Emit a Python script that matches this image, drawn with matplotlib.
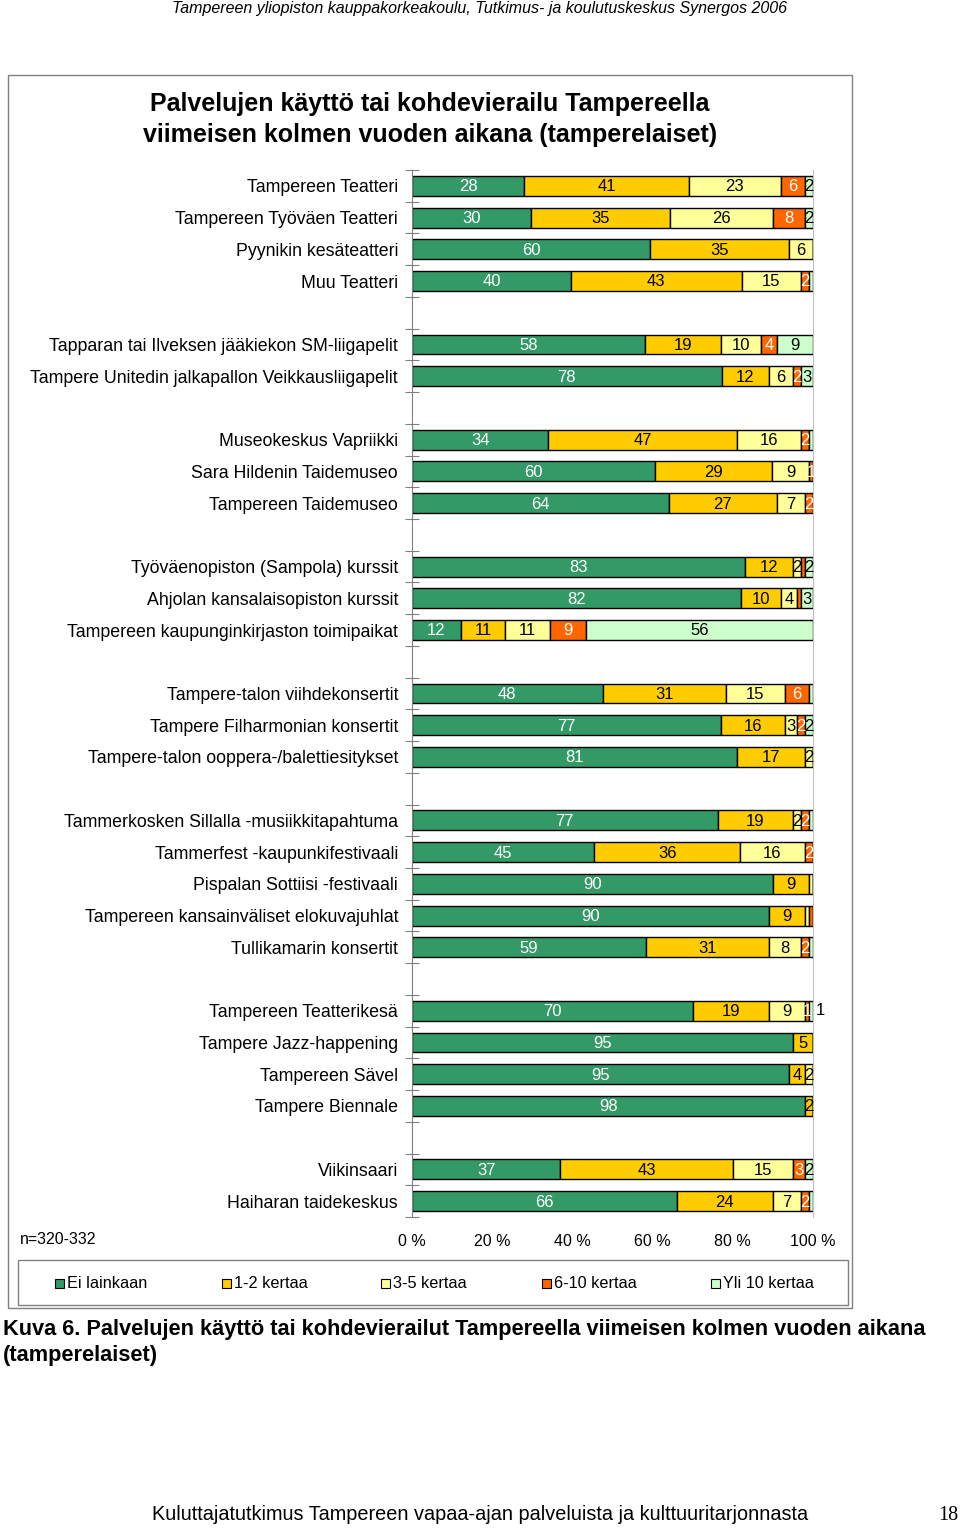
import matplotlib
matplotlib.use("Agg")
import matplotlib.pyplot as plt
import numpy as np

plt.rcParams['font.family'] = ['Liberation Sans', 'DejaVu Sans']

# ---- data ----
groups = [
    ["Tampereen Teatteri", "Tampereen Työväen Teatteri", "Pyynikin kesäteatteri", "Muu Teatteri"],
    ["Tapparan tai Ilveksen jääkiekon SM-liigapelit", "Tampere Unitedin jalkapallon Veikkausliigapelit"],
    ["Museokeskus Vapriikki", "Sara Hildenin Taidemuseo", "Tampereen Taidemuseo"],
    ["Työväenopiston (Sampola) kurssit", "Ahjolan kansalaisopiston kurssit",
     "Tampereen kaupunginkirjaston toimipaikat"],
    ["Tampere-talon viihdekonsertit", "Tampere Filharmonian konsertit",
     "Tampere-talon ooppera-/balettiesitykset"],
    ["Tammerkosken Sillalla -musiikkitapahtuma", "Tammerfest -kaupunkifestivaali",
     "Pispalan Sottiisi -festivaali", "Tampereen kansainväliset elokuvajuhlat", "Tullikamarin konsertit"],
    ["Tampereen Teatterikesä", "Tampere Jazz-happening", "Tampereen Sävel", "Tampere Biennale"],
    ["Viikinsaari", "Haiharan taidekeskus"],
]

series_names = ["Ei lainkaan", "1-2 kertaa", "3-5 kertaa", "6-10 kertaa", "Yli 10 kertaa"]

ei_lainkaan = [28, 30, 60, 40, 58, 78, 34, 60, 64, 83, 82, 12, 48, 77, 81, 77, 45, 90, 90, 59, 70, 95, 95, 98, 37, 66]
kertaa_1_2 = [41, 35, 35, 43, 19, 12, 47, 29, 27, 12, 10, 11, 31, 16, 17, 19, 36, 9, 9, 31, 19, 5, 4, 2, 43, 24]
kertaa_3_5 = [23, 26, 6, 15, 10, 6, 16, 9, 7, 2, 4, 11, 15, 3, 2, 2, 16, 1, 1, 8, 9, 0, 2, 0, 15, 7]
kertaa_6_10 = [6, 8, 0, 2, 4, 2, 2, 1, 2, 1, 1, 9, 6, 2, 0, 2, 2, 0, 1, 2, 1, 0, 0, 0, 3, 2]
yli_10 = [2, 2, 0, 1, 9, 3, 1, 0, 0, 2, 3, 56, 1, 2, 0, 1, 0, 0, 0, 1, 1, 0, 0, 0, 2, 1]

series = [ei_lainkaan, kertaa_1_2, kertaa_3_5, kertaa_6_10, yli_10]
colors = ["#339966", "#FFCC00", "#FFFF99", "#FF6600", "#CCFFCC"]
text_colors = ["white", "black", "black", "white", "black"]
x_ticks = [0, 20, 40, 60, 80, 100]
x_tick_labels = ["0 %", "20 %", "40 %", "60 %", "80 %", "100 %"]

# labels not visible in the original (row index, series index)
hidden_labels = {(17, 2), (18, 2), (18, 3), (3, 4), (6, 4), (12, 4), (15, 4), (19, 4), (25, 4),
                 (9, 3), (10, 3)}
# labels drawn just outside the bar end
outside_labels = {(20, 4)}

# ---- figure ----
W, H = 960, 1528
fig = plt.figure(figsize=(W / 100, H / 100), dpi=100)

def fx(px):
    return px / W

def fy(py):
    return 1 - py / H

# outer chart frame
fig.add_artist(plt.Rectangle((fx(8), fy(1308)), fx(852) - fx(8), fy(75) - fy(1308),
                             transform=fig.transFigure, fill=False, edgecolor="#808080", lw=1.0))
# legend frame
fig.add_artist(plt.Rectangle((fx(18), fy(1305)), fx(848) - fx(18), fy(1260) - fy(1305),
                             transform=fig.transFigure, fill=False, edgecolor="#808080", lw=1.0))

ax_left, ax_right = 412, 813
ax_top, ax_bottom = 170, 1217
ax = fig.add_axes([fx(ax_left), fy(ax_bottom), fx(ax_right) - fx(ax_left), fy(ax_top) - fy(ax_bottom)])

# positions with one blank slot between groups
labels = []
positions = []
pos = 0
for gi, g in enumerate(groups):
    for name in g:
        labels.append(name)
        positions.append(pos)
        pos += 1
    pos += 1
n_slots = pos - 1

data = np.array(series, dtype=float)
totals = data.sum(axis=0)
pct = data / totals * 100

left = np.zeros(len(labels))
for si in range(len(series)):
    ax.barh(positions, pct[si], left=left, height=0.63, color=colors[si],
            edgecolor="black", linewidth=1.0, label=series_names[si])
    for j, p in enumerate(positions):
        v = data[si][j]
        if v > 0 and (j, si) not in hidden_labels:
            if (j, si) in outside_labels:
                ax.text(100.6, p, f"{int(v)}", ha="left", va="center", color="black",
                        fontsize=12, clip_on=False)
            else:
                ax.text(left[j] + pct[si][j] / 2, p + 0.03, f"{int(v)}", ha="center", va="center",
                        color=text_colors[si], fontsize=12)
    left += pct[si]

ax.set_xlim(0, 100)
ax.set_ylim(n_slots - 0.5, -0.5)
ax.set_yticks(positions)
ax.set_yticklabels(labels, fontsize=12.8)
ax.set_yticks(np.arange(-0.5, n_slots, 1.0), minor=True)
ax.tick_params(axis="y", which="major", length=0, pad=10)
ax.tick_params(axis="y", which="minor", length=10, direction="inout", width=0.8, color="#808080")
ax.set_xticks(x_ticks)
ax.set_xticklabels(x_tick_labels, fontsize=11.5)
ax.tick_params(axis="x", length=0, pad=12)
ax.spines["top"].set_visible(False)
ax.spines["bottom"].set_visible(False)
ax.spines["right"].set_color("#C0C0C0")
ax.spines["left"].set_color("#808080")
ax.set_facecolor("white")

# title
fig.text(fx(430), fy(104), "Palvelujen käyttö tai kohdevierailu Tampereella", ha="center", va="center",
         fontsize=18, fontweight="bold")
fig.text(fx(430), fy(135), "viimeisen kolmen vuoden aikana (tamperelaiset)", ha="center", va="center",
         fontsize=18, fontweight="bold")

fig.text(fx(20), fy(1240), "n=320-332", ha="left", va="center", fontsize=11.5)

# legend
leg_x = [55, 222, 381, 542, 711]
for i in range(5):
    fig.add_artist(plt.Rectangle((fx(leg_x[i]), fy(1288)), fx(9), fy(0) - fy(9),
                                 transform=fig.transFigure, facecolor=colors[i], edgecolor="black", lw=0.8))
    fig.text(fx(leg_x[i] + 12), fy(1283), series_names[i], ha="left", va="center", fontsize=11.7)

# header / caption / footer
fig.text(fx(480), fy(9), "Tampereen yliopiston kauppakorkeakoulu, Tutkimus- ja koulutuskeskus Synergos 2006",
         ha="center", va="center", fontsize=11.5, style="italic")
fig.text(fx(3), fy(1330), "Kuva 6. Palvelujen käyttö tai kohdevierailut Tampereella viimeisen kolmen vuoden aikana",
         ha="left", va="center", fontsize=15.7, fontweight="bold")
fig.text(fx(3), fy(1355), "(tamperelaiset)", ha="left", va="center", fontsize=15.7, fontweight="bold")
fig.text(fx(152), fy(1515), "Kuluttajatutkimus Tampereen vapaa-ajan palveluista ja kulttuuritarjonnasta",
         ha="left", va="center", fontsize=14.3)
fig.text(fx(958), fy(1515), "18", ha="right", va="center", fontsize=14.5, family="Liberation Serif")

fig.savefig("out.png", dpi=100, facecolor="white")
